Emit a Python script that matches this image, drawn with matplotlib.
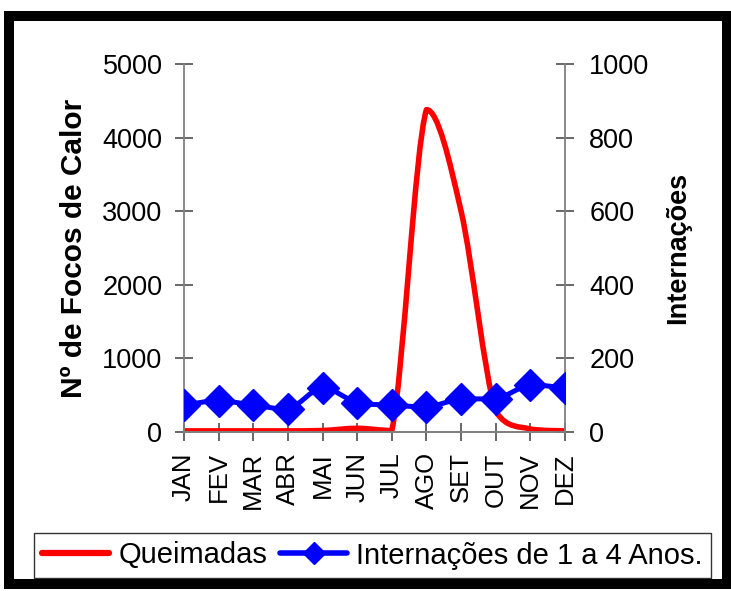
import matplotlib.pyplot as plt
import numpy as np
from matplotlib.path import Path
from matplotlib.patches import PathPatch, Rectangle
from matplotlib.lines import Line2D

plt.rcParams['font.family'] = ['Liberation Sans', 'DejaVu Sans']

# data
meses = ['JAN', 'FEV', 'MAR', 'ABR', 'MAI', 'JUN', 'JUL', 'AGO', 'SET', 'OUT', 'NOV', 'DEZ']
queimadas = [15, 15, 15, 15, 20, 50, 20, 4380, 3000, 280, 40, 15]
internacoes = [73, 85, 73, 62, 120, 80, 73, 68, 90, 90, 128, 120]


def smooth_path(xs, ys):
    # Excel-like smoothed line: Catmull-Rom segments as cubic Bezier curves,
    # control points kept inside each segment's range so the line never dips
    xs = np.asarray(xs, float)
    ys = np.asarray(ys, float)
    n = len(xs)
    verts = [(xs[0], ys[0])]
    codes = [Path.MOVETO]
    for i in range(n - 1):
        i0 = max(i - 1, 0)
        i3 = min(i + 2, n - 1)
        lo, hi = min(ys[i], ys[i + 1]), max(ys[i], ys[i + 1])
        y1 = np.clip(ys[i] + (ys[i + 1] - ys[i0]) / 6, lo, hi)
        y2 = np.clip(ys[i + 1] - (ys[i3] - ys[i]) / 6, lo, hi)
        c1 = (xs[i] + (xs[i + 1] - xs[i0]) / 6, y1)
        c2 = (xs[i + 1] - (xs[i3] - xs[i]) / 6, y2)
        verts += [c1, c2, (xs[i + 1], ys[i + 1])]
        codes += [Path.CURVE4] * 3
    return Path(verts, codes)


fig = plt.figure(figsize=(7.31, 5.91), dpi=100)
ax = fig.add_axes([184 / 731, 1 - 432 / 591, (565 - 184) / 731, (432 - 64) / 591])
ax2 = ax.twinx()

x = np.arange(len(meses))

red = '#ff0000'
blue = '#0000ff'

ax.add_patch(PathPatch(smooth_path(x, queimadas), fill=False, edgecolor=red,
                       lw=4, capstyle='round', joinstyle='round', zorder=2))
ax2.add_patch(PathPatch(smooth_path(x, internacoes), fill=False, edgecolor=blue,
                        lw=3.6, joinstyle='round', zorder=3))
ax2.plot(x, internacoes, linestyle='none', marker='D', markersize=16, color=blue, zorder=4)

ax.set_xlim(0, 11)
ax.set_ylim(0, 5000)
ax2.set_ylim(0, 1000)
ax.set_yticks(range(0, 5001, 1000))
ax2.set_yticks(range(0, 1001, 200))
ax.set_xticks(x)
ax.set_xticklabels(meses, rotation=90)

for a in (ax, ax2):
    for s in a.spines.values():
        s.set_color('#808080')
        s.set_linewidth(1.3)
    a.spines['top'].set_visible(False)
    a.tick_params(direction='inout', length=13, width=1.1, color='#404040',
                  labelsize=19.5, pad=9)
ax2.spines['left'].set_visible(False)
ax.spines['right'].set_visible(False)
ax.tick_params(axis='x', labelsize=18.5, pad=8)
ax2.tick_params(axis='y', pad=11)

ax.set_ylabel('Nº de Focos de Calor', fontsize=21.5, fontweight='bold', labelpad=10)
ax2.set_ylabel('Internações', fontsize=19.5, fontweight='bold', labelpad=11)

handles = [Line2D([], [], color=red, lw=4.5, solid_capstyle='round'),
           Line2D([], [], color=blue, lw=4, marker='D', markersize=11,
                  solid_capstyle='round')]
leg = fig.legend(handles, ['Queimadas', 'Internações de 1 a 4 Anos.'], ncol=2,
                 loc='center', bbox_to_anchor=(372.5 / 731, 1 - 555.5 / 591),
                 fontsize=21, frameon=True, fancybox=False, edgecolor='black',
                 handlelength=2.3, handletextpad=0.3, columnspacing=0.45,
                 borderpad=0.3, borderaxespad=0)
leg.get_frame().set_linewidth(1.0)

# thick black frame around the chart area
fig.patches.append(Rectangle((8.5 / 731, 1 - 584 / 591), 718.5 / 731, 568.5 / 591,
                             transform=fig.transFigure, fill=False,
                             edgecolor='black', lw=7.2))

fig.savefig('out.png', dpi=100)
